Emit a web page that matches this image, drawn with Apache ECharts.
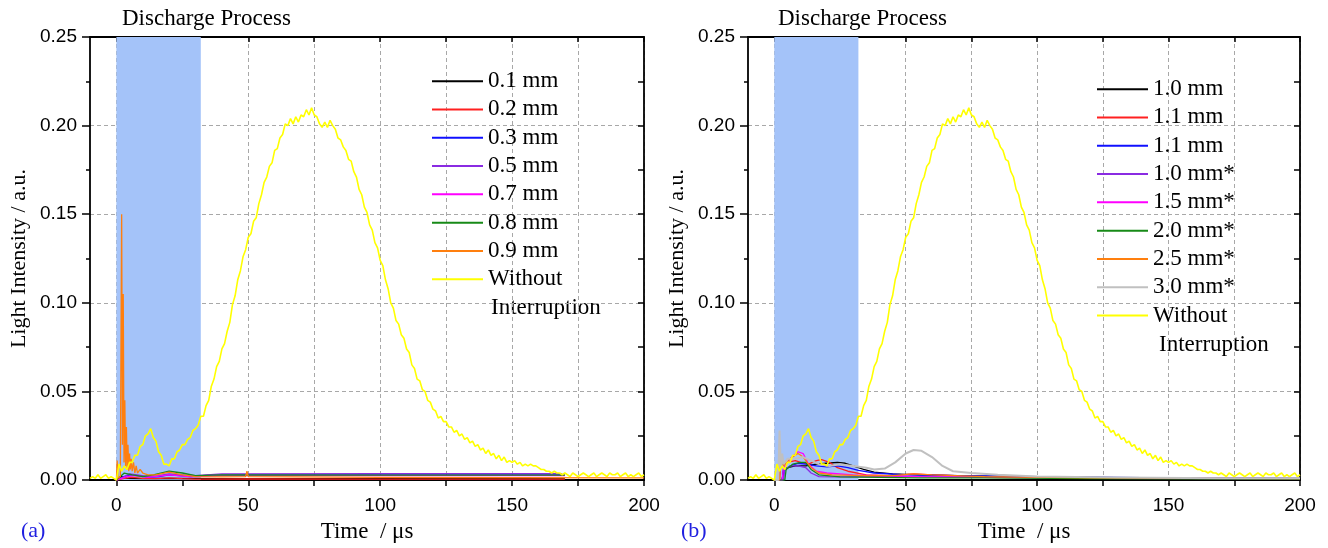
<!DOCTYPE html>
<html>
<head>
<meta charset="utf-8">
<script src="https://cdn.jsdelivr.net/npm/echarts@6/dist/echarts.min.js"></script>
<style>html,body{margin:0;padding:0;background:#fff}#main{width:1328px;height:548px}</style>
</head>
<body>
<div id="main"></div>
<script>
// ---- data ----
var bandRange = [0, 32];              // discharge process window, us
var xTicks = [0, 25, 50, 75, 100, 125, 150, 175, 200];
var xLabels = [0, 50, 100, 150, 200];

// yellow (without interruption), one value per us from -10 to 200
var yellowT0 = -10;
var yellowVals = [
  0.001,0.002,0.001,0.003,0.001,0.002,0.003,0.001,0.002,0.001,
  0.000,0.009,0.005,0.008,0.006,0.010,0.010,0.014,0.014,0.019,
  0.020,0.025,0.026,0.029,0.024,0.022,0.016,0.014,0.009,0.009,
  0.008,0.012,0.012,0.016,0.017,0.020,0.020,0.023,0.024,0.028,
  0.029,0.031,0.036,0.036,0.042,0.045,0.053,0.057,0.064,0.067,
  0.074,0.077,0.084,0.089,0.099,0.104,0.113,0.118,0.126,0.130,
  0.137,0.139,0.146,0.148,0.156,0.161,0.168,0.171,0.177,0.179,
  0.186,0.187,0.193,0.195,0.201,0.200,0.204,0.201,0.205,0.202,
  0.206,0.205,0.209,0.206,0.210,0.206,0.205,0.201,0.199,0.202,
  0.199,0.203,0.200,0.198,0.193,0.192,0.188,0.186,0.181,0.180,
  0.174,0.171,0.164,0.161,0.154,0.151,0.144,0.141,0.134,0.131,
  0.124,0.121,0.113,0.108,0.100,0.097,0.090,0.088,0.082,0.080,
  0.074,0.072,0.065,0.063,0.057,0.056,0.051,0.050,0.045,0.044,
  0.040,0.039,0.035,0.036,0.033,0.033,0.030,0.030,0.027,0.028,
  0.025,0.026,0.023,0.024,0.021,0.022,0.019,0.020,0.017,0.018,
  0.015,0.017,0.014,0.015,0.012,0.014,0.011,0.013,0.010,0.011,
  0.010,0.011,0.009,0.010,0.008,0.009,0.008,0.009,0.008,0.008,
  0.007,0.006,0.006,0.005,0.005,0.004,0.005,0.004,0.004,0.003,
  0.004,0.003,0.002,0.004,0.003,0.002,0.003,0.004,0.003,0.002,
  0.003,0.004,0.002,0.003,0.004,0.003,0.002,0.004,0.003,0.003,
  0.004,0.002,0.003,0.004,0.002,0.003,0.002,0.003,0.004,0.002,0.003
];

// panel (a): gap distances
var namesA = ['0.1 mm','0.2 mm','0.3 mm','0.5 mm','0.7 mm','0.8 mm','0.9 mm'];
var a01 = [[0,0],[2,0.002],[4,0.001],[10,0.0008],[20,0.001],[40,0.0008],[100,0.0008],[170,0.0008]];
var a02 = [[0,0],[3,0.001],[6,0.0015],[10,0.001],[15,0.0008],[20,0.0012],[25,0.0008],[30,0.0005],[50,0.0007],[100,0.0006],[170,0.0006]];
var a03 = [[0,0],[3,0.002],[5,0.003],[8,0.0025],[12,0.0015],[16,0.002],[20,0.003],[24,0.0025],[28,0.002],[35,0.0028],[50,0.003],[100,0.003],[170,0.003]];
var a05 = [[0,0],[3,0.002],[5,0.0035],[8,0.003],[12,0.002],[16,0.0025],[20,0.0035],[25,0.003],[30,0.0025],[40,0.0035],[100,0.0036],[169,0.0036]];
var a07 = [[0,0],[4,0.002],[7,0.0025],[12,0.0015],[20,0.003],[28,0.0018],[40,0.0025],[100,0.0025],[170,0.0025]];
var a08 = [[0,0],[3,0.004],[6,0.003],[10,0.002],[14,0.003],[20,0.005],[25,0.004],[30,0.0025],[40,0.003],[100,0.0028],[170,0.0028]];
var a09 = [[0,0],[0.3,0.011],[0.6,0.001],[1.5,0.002],[2,0.15],[2.3,0.02],[2.6,0.105],[2.9,0.01],[3.2,0.045],[3.5,0.008],
  [3.8,0.03],[4.1,0.006],[4.4,0.02],[4.7,0.005],[5,0.015],[5.3,0.006],[5.6,0.012],[6,0.005],[6.5,0.010],[7,0.004],
  [7.5,0.008],[8,0.004],[9,0.006],[10,0.004],[12,0.003],[15,0.003],[20,0.0045],[25,0.003],[30,0.002],[40,0.0018],
  [49,0.002],[49.5,0.005],[50,0.002],[100,0.0015],[200,0.0012]];

// panel (b)
var namesB = ['1.0 mm','1.1 mm','1.1 mm ','1.0 mm*','1.5 mm*','2.0 mm*','2.5 mm*','3.0 mm*'];
var b10 = [[0,0],[3,0],[3.5,0.006],[5,0.007],[8,0.008],[12,0.008],[16,0.009],[20,0.0095],[24,0.010],[27,0.0095],[30,0.008],[34,0.006],[38,0.0045],[45,0.0035],[55,0.003],[70,0.0025],[90,0.002],[120,0.0015],[160,0.001],[200,0.001]];
var b11 = [[0,0],[2,0],[2.5,0.013],[3.5,0.009],[5,0.010],[8,0.011],[10,0.010],[13,0.009],[16,0.011],[18,0.0115],[21,0.010],[24,0.007],[28,0.005],[35,0.003],[45,0.0025],[53,0.0035],[60,0.003],[80,0.002],[120,0.001],[200,0.0008]];
var b11b = [[0,0],[3,0],[3.5,0.005],[6,0.008],[9,0.0095],[12,0.009],[16,0.008],[20,0.0075],[24,0.008],[28,0.007],[32,0.0055],[38,0.004],[50,0.003],[70,0.0025],[100,0.002],[150,0.0013],[200,0.001]];
var b10s = [[0,0],[3.5,0],[4,0.006],[6,0.008],[9,0.008],[12,0.007],[14,0.004],[17,0.002],[22,0.0018],[40,0.002],[60,0.002],[100,0.0015],[200,0.0008]];
var b15s = [[0,0],[3,0],[3.5,0.007],[6,0.012],[9,0.016],[11,0.015],[13,0.009],[16,0.005],[20,0.004],[30,0.003],[40,0.0025],[55,0.002],[80,0.0015],[120,0.001],[200,0.0008]];
var b20s = [[0,0],[4,0],[4.5,0.006],[7,0.009],[10,0.010],[12,0.010],[14,0.006],[17,0.003],[25,0.0018],[40,0.0015],[55,0.0012],[80,0.0012],[120,0.0008],[200,0.0006]];
var b25s = [[0,0],[2,0],[2.5,0.012],[3.5,0.008],[6,0.012],[9,0.015],[11,0.013],[14,0.007],[17,0.004],[22,0.003],[35,0.0025],[45,0.0025],[53,0.0035],[60,0.003],[80,0.002],[120,0.0012],[200,0.0008]];
var b30s = [[0,0],[1.5,0],[2,0.028],[2.5,0.006],[3,0.015],[3.5,0.009],[5,0.012],[8,0.012],[11,0.013],[14,0.011],[17,0.009],[21,0.008],[25,0.009],[30,0.008],[35,0.007],[38,0.006],[42,0.0065],[46,0.010],[50,0.015],[53,0.017],[56,0.0165],[60,0.013],[64,0.008],[68,0.005],[75,0.004],[85,0.003],[100,0.002],[130,0.0015],[170,0.001],[200,0.001]];

var yellowName = 'Without Interruption';
var colorsA = ['#000000','#ff2020','#1010ff','#8a2be2','#ff00ff','#178a17','#ff7f0e'];
var colorsB = ['#000000','#ff2020','#1010ff','#8a2be2','#ff00ff','#178a17','#ff7f0e','#c0c0c0'];

// ---- chart ----
var serif = "'Liberation Serif', 'Times New Roman', serif";
var sans = "'Liberation Sans', Arial, sans-serif";
var yellowData = yellowVals.map(function (v, i) { return [yellowT0 + i, v]; });

function line(name, data, color, ax, width) {
  return {
    name: name, type: 'line', xAxisIndex: ax, yAxisIndex: ax,
    data: data, symbol: 'none', showSymbol: false, animation: false,
    lineStyle: { color: color, width: width || 1.3 },
    itemStyle: { color: color }
  };
}

function band(ax) {
  return {
    type: 'line', xAxisIndex: ax, yAxisIndex: ax, data: [], animation: false,
    markArea: {
      silent: true,
      itemStyle: { color: '#a4c3f9', opacity: 1 },
      data: [[{ xAxis: bandRange[0] }, { xAxis: bandRange[1] }]]
    }
  };
}

var axisLine = { show: true, onZero: false, lineStyle: { color: '#000', width: 1.8 } };
var tickLine = { color: '#000', width: 1.5 };
var gridLine = { show: true, lineStyle: { color: '#a8a8a8', type: [4, 3], width: 1 } };

function xBottom(gi) {
  return {
    type: 'value', gridIndex: gi, position: 'bottom', min: -10, max: 200,
    name: 'Time  / \u03bcs', nameLocation: 'middle', nameGap: 36,
    nameTextStyle: { fontFamily: serif, fontSize: 23, color: '#000' },
    axisLine: axisLine,
    axisTick: { show: true, inside: false, length: 6, customValues: xTicks, lineStyle: tickLine },
    axisLabel: { customValues: xLabels, margin: 16, fontFamily: sans, fontSize: 19, color: '#000' },
    splitLine: gridLine
  };
}
function xTop(gi) {
  return {
    type: 'value', gridIndex: gi, position: 'top', min: -10, max: 200,
    axisLine: axisLine,
    axisTick: { show: true, inside: true, length: 5, customValues: xTicks, lineStyle: tickLine },
    axisLabel: { show: false }, splitLine: { show: false }
  };
}
function yLeft(gi) {
  return {
    type: 'value', gridIndex: gi, position: 'left', min: 0, max: 0.25, interval: 0.05,
    name: 'Light Intensity / a.u.', nameLocation: 'middle', nameGap: 60,
    nameTextStyle: { fontFamily: serif, fontSize: 22, color: '#000' },
    axisLine: axisLine,
    axisTick: { show: true, inside: false, length: 8, lineStyle: tickLine },
    minorTick: { show: true, splitNumber: 2, length: 4, lineStyle: tickLine },
    axisLabel: { margin: 13, fontFamily: sans, fontSize: 19, color: '#000',
      formatter: function (v) { return v.toFixed(2); } },
    splitLine: gridLine
  };
}
function yRight(gi) {
  return {
    type: 'value', gridIndex: gi, position: 'right', min: 0, max: 0.25, interval: 0.05,
    axisLine: axisLine,
    axisTick: { show: true, inside: true, length: 6, lineStyle: tickLine },
    minorTick: { show: true, splitNumber: 2, length: 6, lineStyle: tickLine },
    axisLabel: { show: false }, splitLine: { show: false }
  };
}

var dataA = [a01, a02, a03, a05, a07, a08, a09];
var dataB = [b10, b11, b11b, b10s, b15s, b20s, b25s, b30s];

var series = [band(0), band(2)];
namesA.forEach(function (n, i) { series.push(line(n, dataA[i], colorsA[i], 0)); });
series.push(line(yellowName, yellowData, '#ffff00', 0, 1.6));
namesB.forEach(function (n, i) { series.push(line(n, dataB[i], colorsB[i], 2, i === 7 ? 2 : 1.3)); });
series.push(line(yellowName, yellowData, '#ffff00', 2, 1.6));

function legend(names, left, top) {
  return {
    data: names.concat([yellowName]), orient: 'vertical', left: left, top: top,
    padding: 0, itemGap: 0, itemWidth: 51, itemHeight: 2, icon: 'rect', selectedMode: false,
    textStyle: { fontFamily: serif, fontSize: 23, color: '#000', lineHeight: 28.3 },
    formatter: function (n) { return n === yellowName ? 'Without' : n; }
  };
}

function txt(s, left, top, size, color) {
  return { type: 'text', left: left, top: top, silent: true,
    style: { text: s, fontFamily: serif, fontSize: size, fill: color || '#000' } };
}

var chart = echarts.init(document.getElementById('main'));
chart.setOption({
  backgroundColor: '#fff',
  animation: false,
  grid: [
    { left: 90, right: 684, top: 37, bottom: 66 },
    { left: 748, right: 28, top: 37, bottom: 66 }
  ],
  xAxis: [xBottom(0), xTop(0), xBottom(1), xTop(1)],
  yAxis: [yLeft(0), yRight(0), yLeft(1), yRight(1)],
  legend: [legend(namesA, 432, 67), legend(namesB, 1097, 75)],
  graphic: [
    txt('Discharge Process', 122, 7, 23),
    txt('Discharge Process', 778, 7, 23),
    txt('Interruption', 491, 296, 23),
    txt('Interruption', 1159, 333, 23),
    txt('(a)', 21, 520, 22, '#2020e0'),
    txt('(b)', 681, 520, 22, '#2020e0')
  ],
  series: series
});
</script>
</body>
</html>
